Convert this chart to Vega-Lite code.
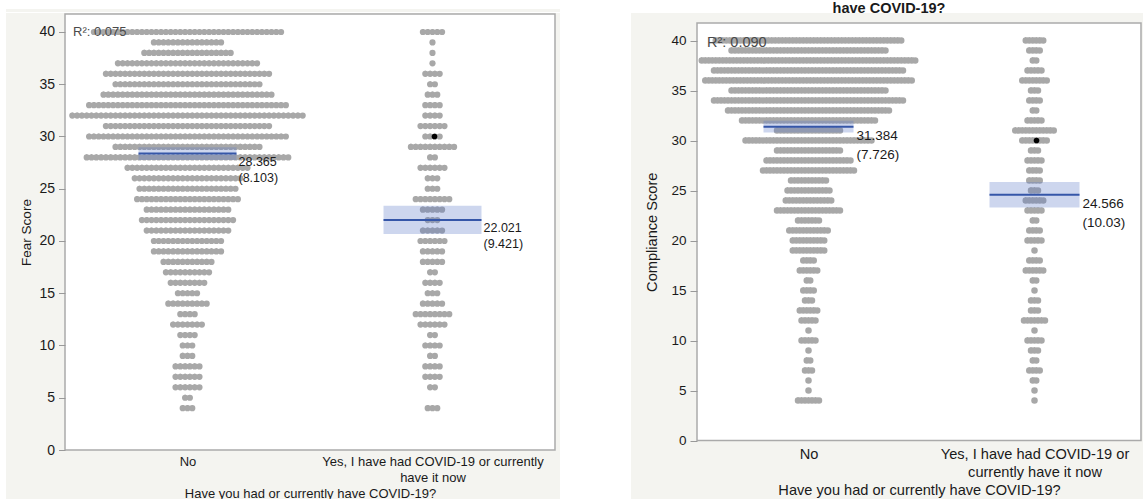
{
  "$schema": "https://vega.github.io/schema/vega-lite/v6.json",
  "background": "white",
  "padding": {"left": 6, "top": 0, "right": 0, "bottom": 0},
  "spacing": 71,
  "resolve": {"scale": {"size": "independent"}},
  "config": {
    "view": {"stroke": null},
    "font": "Liberation Sans",
    "scale": {"continuousPadding": 0},
    "axis": {"grid": false, "domain": false, "labelColor": "#1a1a1a", "titleColor": "#1a1a1a", "titleFontWeight": "normal", "tickColor": "#999999", "labelLimit": 0}
  },
  "datasets": {
    "fearDots": [
      {"g":0,"s":40,"n":40},{"g":0,"s":39,"n":15},{"g":0,"s":38,"n":19},{"g":0,"s":37,"n":30},{"g":0,"s":36,"n":35},{"g":0,"s":35,"n":31},{"g":0,"s":34,"n":36},{"g":0,"s":33,"n":42},{"g":0,"s":32,"n":49},{"g":0,"s":31,"n":35},{"g":0,"s":30,"n":42},{"g":0,"s":29,"n":31},{"g":0,"s":28,"n":43},{"g":0,"s":27,"n":26},{"g":0,"s":26,"n":23},{"g":0,"s":25,"n":21},{"g":0,"s":24,"n":22},{"g":0,"s":23,"n":18},{"g":0,"s":22,"n":20},{"g":0,"s":21,"n":18},{"g":0,"s":20,"n":15},{"g":0,"s":19,"n":15},{"g":0,"s":18,"n":11},{"g":0,"s":17,"n":10},{"g":0,"s":16,"n":8},{"g":0,"s":15,"n":5},{"g":0,"s":14,"n":9},{"g":0,"s":13,"n":4},{"g":0,"s":12,"n":7},{"g":0,"s":11,"n":4},{"g":0,"s":10,"n":3},{"g":0,"s":9,"n":3},{"g":0,"s":8,"n":6},{"g":0,"s":7,"n":6},{"g":0,"s":6,"n":6},{"g":0,"s":5,"n":2},{"g":0,"s":4,"n":3},
      {"g":1,"s":40,"n":5},{"g":1,"s":39,"n":1},{"g":1,"s":38,"n":1},{"g":1,"s":37,"n":1},{"g":1,"s":36,"n":4},{"g":1,"s":35,"n":2},{"g":1,"s":34,"n":3},{"g":1,"s":33,"n":4},{"g":1,"s":32,"n":4},{"g":1,"s":31,"n":6},{"g":1,"s":30,"n":4},{"g":1,"s":29,"n":10},{"g":1,"s":28,"n":2},{"g":1,"s":27,"n":6},{"g":1,"s":26,"n":3},{"g":1,"s":25,"n":3},{"g":1,"s":24,"n":8},{"g":1,"s":23,"n":5},{"g":1,"s":22,"n":3},{"g":1,"s":21,"n":5},{"g":1,"s":20,"n":6},{"g":1,"s":19,"n":5},{"g":1,"s":18,"n":5},{"g":1,"s":17,"n":2},{"g":1,"s":16,"n":4},{"g":1,"s":15,"n":3},{"g":1,"s":14,"n":5},{"g":1,"s":13,"n":8},{"g":1,"s":12,"n":6},{"g":1,"s":11,"n":2},{"g":1,"s":10,"n":4},{"g":1,"s":9,"n":2},{"g":1,"s":8,"n":4},{"g":1,"s":7,"n":4},{"g":1,"s":6,"n":2},{"g":1,"s":4,"n":3}
    ],
    "compDots": [
      {"g":0,"s":40,"n":54},{"g":0,"s":39,"n":45},{"g":0,"s":38,"n":62},{"g":0,"s":37,"n":55},{"g":0,"s":36,"n":60},{"g":0,"s":35,"n":45},{"g":0,"s":34,"n":55},{"g":0,"s":33,"n":47},{"g":0,"s":32,"n":39},{"g":0,"s":31,"n":19},{"g":0,"s":30,"n":37},{"g":0,"s":29,"n":19},{"g":0,"s":28,"n":25},{"g":0,"s":27,"n":27},{"g":0,"s":26,"n":11},{"g":0,"s":25,"n":13},{"g":0,"s":24,"n":14},{"g":0,"s":23,"n":19},{"g":0,"s":22,"n":7},{"g":0,"s":21,"n":12},{"g":0,"s":20,"n":10},{"g":0,"s":19,"n":10},{"g":0,"s":18,"n":4},{"g":0,"s":17,"n":6},{"g":0,"s":16,"n":2},{"g":0,"s":15,"n":4},{"g":0,"s":14,"n":3},{"g":0,"s":13,"n":6},{"g":0,"s":12,"n":5},{"g":0,"s":11,"n":1},{"g":0,"s":10,"n":5},{"g":0,"s":9,"n":1},{"g":0,"s":8,"n":2},{"g":0,"s":7,"n":3},{"g":0,"s":6,"n":1},{"g":0,"s":5,"n":1},{"g":0,"s":4,"n":7},
      {"g":1,"s":40,"n":6},{"g":1,"s":39,"n":4},{"g":1,"s":38,"n":2},{"g":1,"s":37,"n":5},{"g":1,"s":36,"n":8},{"g":1,"s":35,"n":3},{"g":1,"s":34,"n":4},{"g":1,"s":33,"n":2},{"g":1,"s":32,"n":5},{"g":1,"s":31,"n":12},{"g":1,"s":30,"n":8},{"g":1,"s":29,"n":3},{"g":1,"s":28,"n":5},{"g":1,"s":27,"n":4},{"g":1,"s":26,"n":4},{"g":1,"s":25,"n":3},{"g":1,"s":24,"n":6},{"g":1,"s":23,"n":5},{"g":1,"s":22,"n":2},{"g":1,"s":21,"n":4},{"g":1,"s":20,"n":5},{"g":1,"s":19,"n":1},{"g":1,"s":18,"n":4},{"g":1,"s":17,"n":6},{"g":1,"s":16,"n":2},{"g":1,"s":15,"n":1},{"g":1,"s":14,"n":3},{"g":1,"s":13,"n":3},{"g":1,"s":12,"n":7},{"g":1,"s":11,"n":1},{"g":1,"s":10,"n":5},{"g":1,"s":9,"n":3},{"g":1,"s":8,"n":2},{"g":1,"s":7,"n":4},{"g":1,"s":6,"n":2},{"g":1,"s":5,"n":1},{"g":1,"s":4,"n":1}
    ],
    "fearStats": [
      {"g":0,"mean":28.365,"lo":27.76,"hi":28.97,"sd":"(8.103)"},
      {"g":1,"mean":22.021,"lo":20.66,"hi":23.38,"sd":"(9.421)"}
    ],
    "compStats": [
      {"g":0,"mean":31.384,"lo":30.79,"hi":31.98,"sd":"(7.726)"},
      {"g":1,"mean":24.566,"lo":23.29,"hi":25.85,"sd":"(10.03)"}
    ],
    "sel": [{"g":1,"s":30}]
  },
  "hconcat": [
    {
      "spacing": 0,
      "vconcat": [
        {
          "width": 490, "height": 12,
          "data": {"values": [{}]},
          "mark": {"type": "rect", "color": "#f4f4f0", "clip": false},
          "encoding": {
            "x": {"datum": -0.7408, "type": "quantitative", "scale": {"domain": [-0.5, 1.5], "nice": false, "zero": false, "padding": 0}, "axis": null},
            "x2": {"datum": 1.5204},
            "y": {"datum": 3, "type": "quantitative", "scale": {"domain": [0, 12], "nice": false, "zero": false, "padding": 0}, "axis": null},
            "y2": {"datum": 0}
          }
        },
        {
          "width": 490, "height": 436,
          "layer": [
            {
              "data": {"values": [{}]},
              "mark": {"type": "rect", "color": "#f4f4f0", "clip": false},
              "encoding": {
                "x": {"datum": -0.7408, "type": "quantitative", "scale": {"domain": [-0.5, 1.5], "nice": false, "zero": false, "padding": 0},
                  "axis": {"zindex": 1, "values": [0, 1], "labelExpr": "datum.value == 0 ? 'No' : ['Yes, I have had COVID-19 or currently', 'have it now']", "ticks": false, "labelPadding": 5, "labelFontSize": 13, "labelLineHeight": 16.5, "labelFlush": false, "labelOverlap": false, "labelBound": false, "title": "Have you had or currently have COVID-19?", "titleFontSize": 13, "titlePadding": 2.5}},
                "x2": {"datum": 1.5204},
                "y": {"datum": 41.818, "type": "quantitative", "scale": {"domain": [0, 41.722], "nice": false, "zero": false, "padding": 0},
                  "axis": {"zindex": 1, "values": [0, 5, 10, 15, 20, 25, 30, 35, 40], "tickSize": 6.5, "labelPadding": 4, "labelFontSize": 14, "title": "Fear Score", "titleFontSize": 13.5, "titlePadding": 5}},
                "y2": {"datum": -4.785}
              }
            },
            {
              "data": {"values": [{}]},
              "mark": {"type": "rect", "fill": "white", "stroke": "#aaaaaa", "strokeWidth": 1.5, "clip": false},
              "encoding": {
                "x": {"datum": -0.5, "type": "quantitative"},
                "x2": {"datum": 1.5},
                "y": {"datum": 0, "type": "quantitative"},
                "y2": {"datum": 41.722}
              }
            },
            {
              "data": {"name": "fearDots"},
              "mark": {"type": "tick", "orient": "horizontal", "thickness": 0, "stroke": "#a8a8a8", "strokeWidth": 6.2, "strokeCap": "round", "strokeDash": [0, 4.8], "opacity": 1},
              "encoding": {
                "x": {"field": "g", "type": "quantitative"},
                "y": {"field": "s", "type": "quantitative"},
                "size": {"field": "n", "type": "quantitative", "scale": {"type": "linear", "domain": [1, 2], "range": [0.02, 4.82]}, "legend": null}
              }
            },
            {
              "data": {"name": "fearStats"},
              "mark": {"type": "bar", "width": 98, "color": "#5b78c8", "opacity": 0.3},
              "encoding": {
                "x": {"field": "g", "type": "quantitative"},
                "y": {"field": "lo", "type": "quantitative"},
                "y2": {"field": "hi"}
              }
            },
            {
              "data": {"name": "fearStats"},
              "mark": {"type": "tick", "orient": "horizontal", "size": 98, "thickness": 2, "color": "#3556a8", "opacity": 1},
              "encoding": {
                "x": {"field": "g", "type": "quantitative"},
                "y": {"field": "mean", "type": "quantitative"}
              }
            },
            {
              "data": {"name": "fearStats"},
              "mark": {"type": "text", "align": "left", "baseline": "middle", "dx": 51, "dy": 8.5, "fontSize": 12.5, "color": "#1a1a1a"},
              "encoding": {
                "x": {"field": "g", "type": "quantitative"},
                "y": {"field": "mean", "type": "quantitative"},
                "text": {"field": "mean", "type": "quantitative", "format": ".3f"}
              }
            },
            {
              "data": {"name": "fearStats"},
              "mark": {"type": "text", "align": "left", "baseline": "middle", "dx": 51, "dy": 24.5, "fontSize": 12.5, "color": "#1a1a1a"},
              "encoding": {
                "x": {"field": "g", "type": "quantitative"},
                "y": {"field": "mean", "type": "quantitative"},
                "text": {"field": "sd"}
              }
            },
            {
              "data": {"name": "sel"},
              "mark": {"type": "point", "filled": true, "color": "black", "size": 32, "opacity": 1, "xOffset": 2},
              "encoding": {
                "x": {"field": "g", "type": "quantitative"},
                "y": {"field": "s", "type": "quantitative"}
              }
            },
            {
              "data": {"values": [{"t": "R²: 0.075"}]},
              "mark": {"type": "text", "align": "left", "baseline": "middle", "dx": 8, "fontSize": 13, "color": "#4a4a4a"},
              "encoding": {
                "x": {"datum": -0.5, "type": "quantitative"},
                "y": {"datum": 40, "type": "quantitative"},
                "text": {"field": "t"}
              }
            }
          ]
        }
      ]
    },
    {
      "spacing": 0,
      "vconcat": [
        {
          "width": 444, "height": 16,
          "layer": [
            {
              "data": {"values": [{}]},
              "mark": {"type": "rect", "color": "#f4f4f0", "clip": false},
              "encoding": {
                "x": {"datum": -0.7854, "type": "quantitative", "scale": {"domain": [-0.4934, 1.4712], "nice": false, "zero": false, "padding": 0}, "axis": null},
                "x2": {"datum": 1.4801},
                "y": {"datum": 3, "type": "quantitative", "scale": {"domain": [0, 16], "nice": false, "zero": false, "padding": 0}, "axis": null},
                "y2": {"datum": 0}
              }
            },
            {
              "data": {"values": [{"t": "have COVID-19?"}]},
              "mark": {"type": "text", "clip": true, "fontSize": 14.5, "fontWeight": "bold", "baseline": "alphabetic", "align": "center", "color": "#1a1a1a"},
              "encoding": {
                "x": {"datum": 0.3562, "type": "quantitative"},
                "y": {"datum": 3, "type": "quantitative"},
                "text": {"field": "t"}
              }
            }
          ]
        },
        {
          "width": 444, "height": 417.5,
          "layer": [
            {
              "data": {"values": [{}]},
              "mark": {"type": "rect", "color": "#f4f4f0", "clip": false},
              "encoding": {
                "x": {"datum": -0.7854, "type": "quantitative", "scale": {"domain": [-0.4934, 1.4712], "nice": false, "zero": false, "padding": 0},
                  "axis": {"zindex": 1, "values": [0, 1], "labelExpr": "datum.value == 0 ? 'No' : ['Yes, I have had COVID-19 or', 'currently have it now']", "ticks": false, "labelPadding": 5.5, "labelFontSize": 14.6, "labelLineHeight": 18.3, "labelFlush": false, "labelOverlap": false, "labelBound": false, "title": "Have you had or currently have COVID-19?", "titleFontSize": 14.6, "titlePadding": 4}},
                "x2": {"datum": 1.4801},
                "y": {"datum": 42.45, "type": "quantitative", "scale": {"domain": [0, 41.75], "nice": false, "zero": false, "padding": 0},
                  "axis": {"zindex": 1, "values": [0, 5, 10, 15, 20, 25, 30, 35, 40], "tickSize": 7, "labelPadding": 4, "labelFontSize": 13.5, "title": "Compliance Score", "titleFontSize": 14.6, "titlePadding": 11}},
                "y2": {"datum": -5.85}
              }
            },
            {
              "data": {"values": [{}]},
              "mark": {"type": "rect", "fill": "white", "stroke": "#aaaaaa", "strokeWidth": 1.5, "clip": false},
              "encoding": {
                "x": {"datum": -0.4934, "type": "quantitative"},
                "x2": {"datum": 1.4712},
                "y": {"datum": 0, "type": "quantitative"},
                "y2": {"datum": 41.75}
              }
            },
            {
              "data": {"name": "compDots"},
              "mark": {"type": "tick", "orient": "horizontal", "thickness": 0, "stroke": "#a8a8a8", "strokeWidth": 6.5, "strokeCap": "round", "strokeDash": [0, 3.5], "opacity": 1},
              "encoding": {
                "x": {"field": "g", "type": "quantitative"},
                "y": {"field": "s", "type": "quantitative"},
                "size": {"field": "n", "type": "quantitative", "scale": {"type": "linear", "domain": [1, 2], "range": [0.02, 3.52]}, "legend": null}
              }
            },
            {
              "data": {"name": "compStats"},
              "mark": {"type": "bar", "width": 90, "color": "#5b78c8", "opacity": 0.3},
              "encoding": {
                "x": {"field": "g", "type": "quantitative"},
                "y": {"field": "lo", "type": "quantitative"},
                "y2": {"field": "hi"}
              }
            },
            {
              "data": {"name": "compStats"},
              "mark": {"type": "tick", "orient": "horizontal", "size": 90, "thickness": 2, "color": "#3556a8", "opacity": 1},
              "encoding": {
                "x": {"field": "g", "type": "quantitative"},
                "y": {"field": "mean", "type": "quantitative"}
              }
            },
            {
              "data": {"name": "compStats"},
              "mark": {"type": "text", "align": "left", "baseline": "middle", "dx": 48, "dy": 9.5, "fontSize": 13.5, "color": "#1a1a1a"},
              "encoding": {
                "x": {"field": "g", "type": "quantitative"},
                "y": {"field": "mean", "type": "quantitative"},
                "text": {"field": "mean", "type": "quantitative", "format": ".3f"}
              }
            },
            {
              "data": {"name": "compStats"},
              "mark": {"type": "text", "align": "left", "baseline": "middle", "dx": 48, "dy": 28.5, "fontSize": 13.5, "color": "#1a1a1a"},
              "encoding": {
                "x": {"field": "g", "type": "quantitative"},
                "y": {"field": "mean", "type": "quantitative"},
                "text": {"field": "sd"}
              }
            },
            {
              "data": {"name": "sel"},
              "mark": {"type": "point", "filled": true, "color": "black", "size": 32, "opacity": 1, "xOffset": 2},
              "encoding": {
                "x": {"field": "g", "type": "quantitative"},
                "y": {"field": "s", "type": "quantitative"}
              }
            },
            {
              "data": {"values": [{"t": "R²: 0.090"}]},
              "mark": {"type": "text", "align": "left", "baseline": "middle", "dx": 10, "dy": 2, "fontSize": 14.5, "color": "#4a4a4a"},
              "encoding": {
                "x": {"datum": -0.4934, "type": "quantitative"},
                "y": {"datum": 40, "type": "quantitative"},
                "text": {"field": "t"}
              }
            }
          ]
        }
      ]
    }
  ]
}
